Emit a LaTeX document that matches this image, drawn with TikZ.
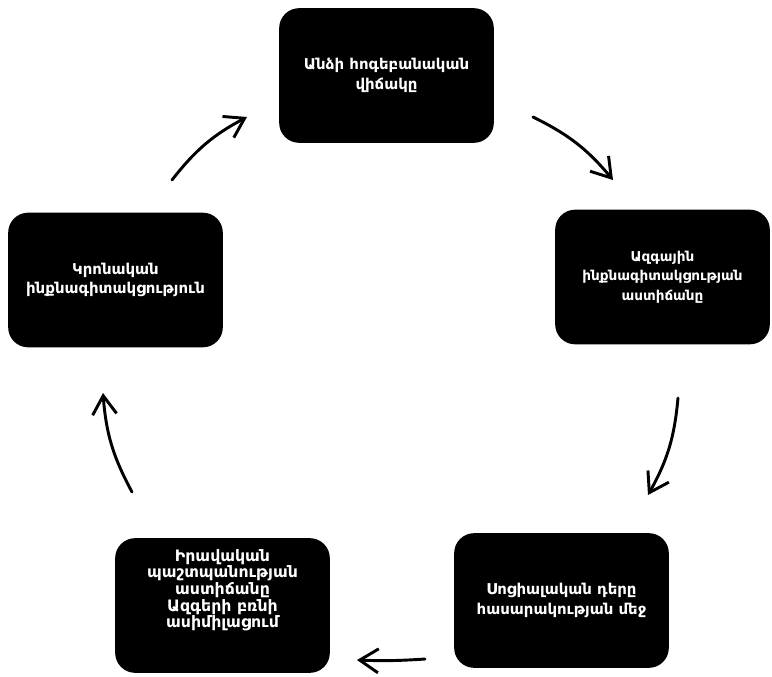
\documentclass[tikz,border=0pt]{standalone}
\usepackage{fontspec}
\setmainfont{DejaVu Sans}
\usetikzlibrary{arrows.meta}

\begin{document}
\begin{tikzpicture}[x=0.75pt,y=-0.75pt,
box/.style={fill=black,text=white,rounded corners=15pt,minimum width=161pt,minimum height=101pt,align=center,font=\bfseries\fontsize{11.2}{14.8}\selectfont},
cycle/.style={line width=2.2pt,line cap=round,-{Straight Barb[length=14pt,width=18pt,line width=2.2pt]},bend left=12}
]
\useasboundingbox (0,0) rectangle (772,676);

% The boxes
\node[box] (state) at (386.5,75.5) {Անձի հոգեբանական\\վիճակը};
\node[box,font=\bfseries\fontsize{10.2}{14.5}\selectfont] (nation) at (662.5,277) {Ազգային\\ինքնագիտակցության\\աստիճանը};
\node[box] (social) at (561.5,600.5) {Սոցիալական դերը\\հասարակության մեջ};
\node[box,font=\bfseries\fontsize{11.8}{11.25}\selectfont] (rights) at (222.5,605.5) {Իրավական\\պաշտպանության\\աստիճանը\\Ազգերի բռնի\\ասիմիլացում\\[14pt]\mbox{}};
\node[box] (faith) at (115.5,280) {Կրոնական\\ինքնագիտակցություն};

% The arrow ends
\coordinate (faith-out) at (172,180);
\coordinate (state-in) at (247,117);
\coordinate (state-out) at (533,117);
\coordinate (nation-in) at (613,180);
\coordinate (nation-out) at (678,398);
\coordinate (social-in) at (648,495);
\coordinate (social-out) at (425,659);
\coordinate (rights-in) at (357,660);
\coordinate (rights-out) at (132,492);
\coordinate (faith-in) at (103,393);

% The arrows
\draw[cycle] (faith-out) to (state-in);
\draw[cycle] (state-out) to (nation-in);
\draw[cycle] (nation-out) to (social-in);
\draw[cycle,bend left=3] (social-out) to (rights-in);
\draw[cycle] (rights-out) to (faith-in);
\end{tikzpicture}
\end{document}
